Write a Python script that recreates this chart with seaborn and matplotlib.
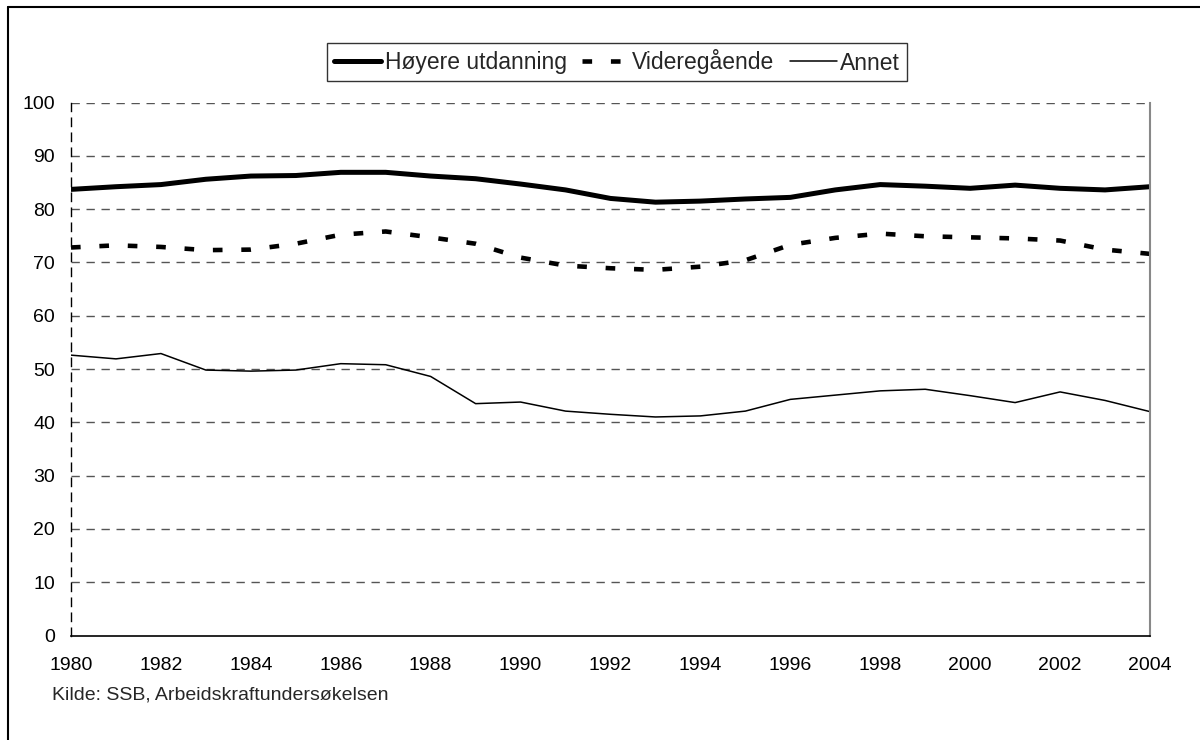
import numpy as np
import pandas as pd
import matplotlib
matplotlib.use('Agg')
import matplotlib.pyplot as plt
import seaborn as sns

# Data
years = list(range(1980, 2005))
hoyere = [83.7, 84.2, 84.6, 85.6, 86.2, 86.3, 86.9, 86.9, 86.2, 85.7, 84.7, 83.6, 82.0,
          81.3, 81.5, 81.9, 82.2, 83.6, 84.6, 84.3, 83.9, 84.5, 83.9, 83.6, 84.2]
videregaende = [72.8, 73.2, 72.9, 72.3, 72.4, 73.5, 75.2, 75.8, 74.7, 73.5, 70.9, 69.4, 68.9,
                68.6, 69.2, 70.4, 73.3, 74.6, 75.4, 74.9, 74.7, 74.5, 74.1, 72.4, 71.6]
annet = [52.6, 51.9, 52.9, 49.8, 49.6, 49.8, 51.0, 50.8, 48.6, 43.5, 43.8, 42.1, 41.5,
         41.0, 41.2, 42.1, 44.3, 45.1, 45.9, 46.2, 45.0, 43.7, 45.7, 44.1, 42.0]
labels = ['Høyere utdanning', 'Videregående', 'Annet']
kilde = 'Kilde: SSB, Arbeidskraftundersøkelsen'

sns.set_style('white')
plt.rcParams['font.family'] = ['Liberation Sans', 'DejaVu Sans']

fig = plt.figure(figsize=(12, 7.4), dpi=100)
ax = fig.add_axes([71/1200, 1 - 635.5/740, (1150 - 71)/1200, (635.5 - 102.5)/740])

# Linjer
sns.lineplot(x=years, y=hoyere, ax=ax, color='black', linewidth=3.6,
             label=labels[0])
sns.lineplot(x=years, y=videregaende, ax=ax, color='black', linewidth=3.3,
             linestyle=(0, (2.1, 4.1)), label=labels[1])
sns.lineplot(x=years, y=annet, ax=ax, color='black', linewidth=1.1,
             label=labels[2])

ax.set_xlim(1980, 2004)
ax.set_ylim(0, 100)
ax.set_xticks(range(1980, 2005, 2))
ax.set_xticks(range(1980, 2005), minor=True)
ax.set_yticks(range(0, 101, 10))
ax.tick_params(axis='both', which='both', direction='out', length=6.5, width=1,
               color='black', labelsize=14, labelcolor='black')
ax.tick_params(axis='x', which='major', pad=9)
ax.tick_params(axis='y', pad=5)

# Rutenett
grid_dash = (0, (6, 4.8))
for yv in range(10, 101, 10):
    ax.axhline(yv, color='#555555', linewidth=1.0, linestyle=grid_dash, zorder=0)

ax.spines['top'].set_visible(False)
ax.spines['right'].set_color('#888888')
ax.spines['right'].set_linewidth(1.5)
ax.spines['left'].set_color('black')
ax.spines['left'].set_linewidth(1.0)
ax.spines['left'].set_linestyle(grid_dash)
ax.spines['bottom'].set_color('black')
ax.spines['bottom'].set_linewidth(1.2)

leg = ax.legend(loc='center', bbox_to_anchor=(617/1200, 1 - 62/740),
                bbox_transform=fig.transFigure, ncol=3, frameon=True,
                fancybox=False, edgecolor='black', fontsize=16.5,
                handlelength=2.05, handletextpad=0.17, columnspacing=0.65,
                borderpad=0.3, borderaxespad=0)
leg.get_frame().set_linewidth(1.0)

fig.text(52/1200, 1 - 695/740, kilde, fontsize=14, va='center', ha='left')

# Ramme rundt figuren (venstre og topp)
fig.add_artist(plt.Line2D([8/1200, 8/1200], [0, 1 - 7/740], color='black',
                          linewidth=1.5, transform=fig.transFigure))
fig.add_artist(plt.Line2D([8/1200, 1], [1 - 7/740, 1 - 7/740], color='black',
                          linewidth=1.5, transform=fig.transFigure))

fig.savefig('out.png', dpi=100)
